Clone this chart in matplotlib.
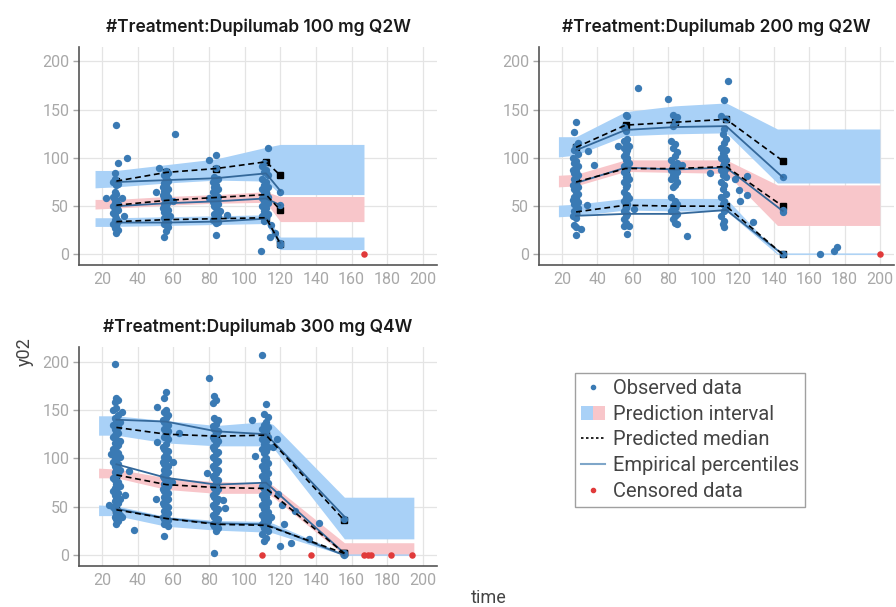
import matplotlib
matplotlib.use("Agg")
import matplotlib.pyplot as plt
from matplotlib.lines import Line2D
from matplotlib.patches import Patch
from matplotlib.legend_handler import HandlerTuple

plt.rcParams['font.family'] = ['Roboto', 'DejaVu Sans']

# ---------------- colours ----------------
OBS_COLOR = "#3a7ab4"
BAND_BLUE = "#a9d1f7"
BAND_PINK = "#f8c6ca"
EMP_COLOR = "#34689a"
CENS_COLOR = "#e03a3a"

# ============ Dupilumab 100 mg Q2W ============
t100_title = "#Treatment:Dupilumab 100 mg Q2W"
t100_bins = [28, 56, 84, 112, 120]
t100_band_x = [16, 28, 56, 84, 112, 120, 167]
t100_hi_lo = [69, 70, 74, 77, 76, 62, 62]
t100_hi_hi = [87, 87, 93, 99, 111, 114, 114]
t100_md_lo = [47, 48, 51, 53, 54, 34, 34]
t100_md_hi = [57, 57, 60, 62, 65, 60, 60]
t100_lo_lo = [29, 29, 30, 31, 32, 5, 5]
t100_lo_hi = [38, 38, 39, 40, 41, 18, 18]
t100_pred_hi = [76, 85, 89, 96, 82]
t100_pred_md = [51, 56, 59, 62, 46]
t100_pred_lo = [34, 36, 37, 38, 11]
t100_emp_hi = [75, 77, 79, 84, 66]
t100_emp_md = [50, 53, 55, 58, 51]
t100_emp_lo = [33, 33, 34, 37, 12]
t100_obs_t = [28, 27, 27, 28, 26, 27, 29, 28, 27, 28, 26, 22, 31, 28, 27, 29, 26, 28, 27, 29,
              28, 26, 27, 32, 28, 27, 29, 28, 26, 28, 27, 29, 28, 34, 29,
              61, 52, 56, 57, 55, 56, 57, 55, 56, 54, 57, 55, 56, 54, 57, 55, 56, 57, 55, 56,
              54, 57, 55, 56, 58, 55, 56, 57, 55, 56, 57, 56, 55, 50, 60,
              84, 80, 84, 83, 85, 82, 84, 83, 85, 82, 84, 85, 83, 84, 82, 85, 83, 84, 86, 83,
              85, 84, 82, 85, 84, 84, 90, 80,
              113, 111, 110, 112, 111, 113, 110, 112, 111, 113, 110, 112, 111, 113, 110, 112,
              111, 113, 110, 112, 111, 113, 110, 112, 111, 114, 109, 115, 117,
              120, 120, 120, 120]
t100_obs_y = [134, 84, 78, 76, 75, 74, 73, 72, 65, 63, 60, 58, 58, 56, 54, 52, 50, 49, 47, 46,
              45, 43, 41, 40, 38, 36, 35, 33, 31, 29, 27, 25, 22, 100, 95,
              125, 90, 86, 84, 82, 79, 76, 74, 72, 70, 68, 66, 64, 62, 60, 58, 56, 54, 52, 50,
              48, 46, 44, 42, 40, 38, 36, 34, 32, 30, 28, 24, 18, 65, 55,
              103, 98, 90, 80, 78, 75, 72, 70, 68, 65, 62, 60, 58, 56, 54, 52, 50, 48, 45, 42,
              40, 38, 36, 34, 33, 20, 41, 58,
              110, 95, 92, 88, 85, 82, 78, 75, 72, 70, 68, 65, 63, 60, 58, 56,
              55, 53, 50, 48, 45, 42, 40, 38, 35, 18, 3, 30, 22,
              65, 51, 12, 10]
t100_cens_t = [167]
t100_cens_y = [0]

# ============ Dupilumab 200 mg Q2W ============
t200_title = "#Treatment:Dupilumab 200 mg Q2W"
t200_bins = [28, 56, 84, 113, 145]
t200_band_x = [18, 28, 56, 84, 113, 142, 200]
t200_hi_lo = [101, 103, 123, 125, 126, 74, 74]
t200_hi_hi = [122, 122, 148, 154, 157, 130, 130]
t200_md_lo = [70, 71, 86, 85, 84, 30, 30]
t200_md_hi = [82, 83, 98, 98, 98, 72, 72]
t200_lo_lo = [39, 40, 46, 45, 45, 0, 0]
t200_lo_hi = [51, 52, 58, 58, 58, 1.5, 1.5]
t200_pred_hi = [111, 134, 137, 140, 97]
t200_pred_md = [75, 89, 89, 91, 50]
t200_pred_lo = [44, 51, 50, 50, 0]
t200_emp_hi = [108, 129, 132, 133, 80]
t200_emp_md = [74, 90, 88, 90, 45]
t200_emp_lo = [40, 42, 42, 46, 0]
t200_obs_t = [28, 27, 29, 28, 27, 29, 26, 28, 27, 29, 28, 26, 28, 27, 29, 28, 27, 28, 26, 29,
              27, 28, 29, 27, 28, 26, 29, 27, 28, 29, 27, 28, 26, 28, 27, 28, 31, 28, 35, 38, 34,
              56, 57, 55, 56, 57, 55, 56, 58, 55, 57, 56, 55, 57, 56, 58, 55, 57, 56, 55, 57,
              56, 58, 55, 57, 56, 55, 57, 56, 58, 55, 57, 56, 55, 57, 56, 55, 56, 55, 58, 57,
              63, 61, 52,
              80, 83, 85, 84, 83, 82, 84, 83, 85, 84, 82, 85, 83, 84, 82, 85, 83, 84, 82, 85,
              84, 83, 82, 84, 85, 83, 84, 82, 85, 84, 83, 84, 85, 91, 88,
              114, 112, 110, 113, 112, 111, 113, 112, 110, 113, 111, 112, 110, 113, 112, 111,
              113, 110, 112, 111, 113, 110, 112, 111, 113, 110, 112, 111, 113, 112, 110, 112,
              111, 112, 118, 120, 121, 125, 125, 128, 104,
              145, 145, 145, 145, 166, 174, 176]
t200_obs_y = [137, 127, 115, 112, 108, 104, 100, 97, 95, 92, 90, 88, 86, 84, 82, 80, 78, 75, 72, 70,
              68, 65, 63, 60, 58, 56, 54, 52, 50, 48, 45, 42, 40, 38, 30, 28, 26, 20, 107, 93, 51,
              145, 143, 132, 128, 120, 118, 115, 112, 110, 108, 105, 102, 100, 98, 95, 92, 90, 88, 85, 82,
              80, 78, 75, 72, 70, 65, 62, 60, 58, 55, 52, 48, 45, 42, 40, 37, 33, 29, 29, 21,
              173, 47, 112,
              161, 145, 142, 137, 133, 118, 114, 110, 106, 102, 98, 95, 92, 90, 88, 85, 82, 80, 78, 75,
              72, 70, 60, 55, 52, 50, 48, 45, 42, 40, 37, 33, 31, 19, 93,
              180, 160, 143, 140, 130, 125, 120, 115, 110, 108, 105, 102, 100, 98, 95, 92,
              90, 88, 85, 82, 80, 75, 72, 68, 63, 60, 55, 52, 48, 45, 40, 35,
              31, 28, 78, 67, 55, 81, 62, 34, 84,
              80, 46, 44, 0, 0, 3, 8]
t200_cens_t = [200]
t200_cens_y = [0]

# ============ Dupilumab 300 mg Q4W ============
t300_title = "#Treatment:Dupilumab 300 mg Q4W"
t300_bins = [28, 56, 84, 112, 156]
t300_band_x = [18, 28, 56, 84, 112, 116, 156, 195]
t300_hi_lo = [124, 124, 116, 113, 113, 111, 17, 17]
t300_hi_hi = [144, 144, 139, 134, 138, 135, 60, 60]
t300_md_lo = [80, 80, 68, 64, 64, 60, 0, 0]
t300_md_hi = [90, 89, 80, 76, 75, 72, 13, 13]
t300_lo_lo = [41, 41, 30, 26, 24, 23, 0, 0]
t300_lo_hi = [52, 51, 40, 36, 35, 33, 1.5, 1.5]
t300_pred_hi = [132, 125, 123, 124, 36]
t300_pred_md = [83, 73, 70, 69, 2]
t300_pred_lo = [47, 38, 32, 31, 2]
t300_emp_hi = [140, 138, 128, 125, 40]
t300_emp_md = [94, 80, 73, 75, 2]
t300_emp_lo = [48, 38, 33, 32, 0]
t300_obs_t = [27, 28, 29, 27, 28, 26, 31, 29, 27, 28, 30, 26, 29, 27, 28, 29, 27, 26, 28, 30,
              27, 29, 28, 26, 27, 29, 28, 30, 27, 28, 26, 29, 27, 28, 30, 27, 29, 28, 26, 27,
              29, 28, 30, 27, 28, 26, 29, 27, 28, 30, 27, 29, 28, 26, 27, 29, 28, 30, 27, 28,
              29, 28, 24, 35, 38, 33, 25, 31,
              56, 55, 51, 56, 55, 57, 56, 54, 55, 57, 56, 55, 57, 51, 56, 55, 57, 56, 54, 55,
              57, 56, 55, 57, 56, 54, 55, 57, 56, 55, 57, 56, 54, 55, 57, 56, 55, 57, 56, 54,
              55, 57, 56, 55, 57, 56, 54, 55, 57, 56, 55, 57, 56, 54, 55, 57, 56, 55, 57, 55,
              63, 50, 60, 59,
              80, 83, 84, 82, 83, 85, 84, 82, 83, 85, 84, 82, 83, 85, 84, 82, 83, 85, 84, 82,
              83, 85, 84, 82, 83, 85, 84, 82, 83, 85, 84, 82, 83, 85, 84, 82, 83, 85, 84, 82,
              83, 85, 84, 82, 83, 85, 84, 82, 83, 85, 84, 83, 88, 89, 79,
              110, 112, 111, 113, 104, 112, 111, 113, 110, 112, 111, 113, 110, 112, 111, 113,
              110, 112, 111, 106, 112, 111, 113, 110, 112, 111, 113, 110, 112, 111, 113, 110,
              112, 111, 113, 110, 112, 111, 113, 110, 112, 111, 113, 110, 112, 111, 113, 110,
              112, 111, 113, 110, 112, 111,
              118, 119, 121, 122, 120, 126, 128, 136, 142, 116, 115,
              156, 156, 156]
t300_obs_y = [197, 162, 160, 158, 152, 150, 148, 145, 142, 140, 138, 135, 132, 130, 128, 126, 124, 122, 120, 118,
              116, 114, 112, 110, 108, 106, 104, 102, 100, 98, 96, 94, 92, 90, 88, 86, 84, 82, 80, 78,
              76, 74, 72, 70, 68, 66, 64, 62, 60, 58, 56, 54, 52, 50, 48, 46, 44, 42, 40, 38,
              35, 32, 52, 87, 26, 62, 105, 40,
              169, 162, 153, 150, 148, 145, 142, 140, 138, 135, 132, 130, 128, 117, 125, 122, 120, 115, 112, 110,
              108, 105, 102, 100, 98, 96, 94, 92, 90, 88, 86, 84, 82, 80, 78, 76, 74, 72, 70, 68,
              66, 64, 62, 60, 58, 56, 54, 52, 50, 48, 46, 44, 42, 40, 38, 36, 34, 32, 30, 20,
              126, 58, 96, 76,
              183, 164, 160, 157, 142, 140, 136, 133, 130, 128, 125, 122, 120, 118, 115, 112, 110, 107, 105, 102,
              100, 97, 95, 92, 90, 88, 85, 82, 80, 78, 75, 72, 70, 68, 65, 62, 60, 58, 55, 52,
              50, 48, 45, 42, 40, 38, 35, 32, 30, 28, 25, 2, 57, 49, 85,
              207, 156, 146, 143, 140, 138, 135, 132, 130, 128, 125, 122, 120, 118, 115, 112,
              110, 108, 106, 103, 100, 98, 95, 92, 90, 88, 85, 82, 80, 78, 75, 72,
              70, 68, 65, 62, 60, 58, 55, 52, 50, 48, 45, 42, 40, 38, 35, 32,
              30, 28, 25, 22, 18, 15,
              120, 63, 52, 32, 10, 13, 46, 17, 33, 112, 40,
              38, 2, 0]
t300_cens_t = [110, 137, 167, 169, 171, 182, 194]
t300_cens_y = [0, 0, 0, 0, 0, 0, 0]

panels = [
    dict(title=t100_title, bins=t100_bins, bx=t100_band_x,
         bands=[(t100_hi_lo, t100_hi_hi, BAND_BLUE), (t100_md_lo, t100_md_hi, BAND_PINK),
                (t100_lo_lo, t100_lo_hi, BAND_BLUE)],
         pred=[t100_pred_hi, t100_pred_md, t100_pred_lo],
         emp=[t100_emp_hi, t100_emp_md, t100_emp_lo],
         obs=(t100_obs_t, t100_obs_y), cens=(t100_cens_t, t100_cens_y),
         rect=[79 / 896, 1 - 265 / 607, 358 / 896, 218 / 607]),
    dict(title=t200_title, bins=t200_bins, bx=t200_band_x,
         bands=[(t200_hi_lo, t200_hi_hi, BAND_BLUE), (t200_md_lo, t200_md_hi, BAND_PINK),
                (t200_lo_lo, t200_lo_hi, BAND_BLUE)],
         pred=[t200_pred_hi, t200_pred_md, t200_pred_lo],
         emp=[t200_emp_hi, t200_emp_md, t200_emp_lo],
         obs=(t200_obs_t, t200_obs_y), cens=(t200_cens_t, t200_cens_y),
         rect=[539 / 896, 1 - 265 / 607, 355 / 896, 218 / 607]),
    dict(title=t300_title, bins=t300_bins, bx=t300_band_x,
         bands=[(t300_hi_lo, t300_hi_hi, BAND_BLUE), (t300_md_lo, t300_md_hi, BAND_PINK),
                (t300_lo_lo, t300_lo_hi, BAND_BLUE)],
         pred=[t300_pred_hi, t300_pred_md, t300_pred_lo],
         emp=[t300_emp_hi, t300_emp_md, t300_emp_lo],
         obs=(t300_obs_t, t300_obs_y), cens=(t300_cens_t, t300_cens_y),
         rect=[79 / 896, 1 - 566 / 607, 358 / 896, 219 / 607]),
]

fig = plt.figure(figsize=(8.96, 6.07), dpi=100)

for p in panels:
    ax = fig.add_axes(p["rect"])
    for lo, hi, col in p["bands"]:
        ax.fill_between(p["bx"], lo, hi, color=col, lw=0, zorder=1)
    # predicted-median markers sit under the observations; only the free ones show
    for yv in p["pred"]:
        ax.plot(p["bins"], yv, ls="none", marker="s", ms=4, color="black", zorder=1.5)
    ax.scatter(p["obs"][0], p["obs"][1], s=28, color=OBS_COLOR, lw=0, zorder=2)
    for yv in p["emp"]:
        ax.plot(p["bins"], yv, color=EMP_COLOR, lw=1.3, zorder=3)
    for yv in p["pred"]:
        ax.plot(p["bins"], yv, color="black", lw=1.2, dashes=(3.5, 2.2), zorder=4)
    ax.scatter(p["cens"][0], p["cens"][1], s=22, color=CENS_COLOR, lw=0, zorder=5)

    ax.set_xlim(7, 208)
    ax.set_ylim(-11, 215)
    ax.set_xticks(range(20, 201, 20))
    ax.set_yticks(range(0, 201, 50))
    ax.grid(True, color="#e4e4e4", lw=0.9, zorder=0)
    ax.set_axisbelow(True)
    for s in ("top", "right"):
        ax.spines[s].set_visible(False)
    for s in ("left", "bottom"):
        ax.spines[s].set_color("#555555")
        ax.spines[s].set_linewidth(1.2)
    ax.tick_params(axis="x", length=0, pad=5, labelsize=11.5, labelcolor="#a8a8a8")
    ax.tick_params(axis="y", length=4, width=1, color="#a8a8a8", pad=3,
                   labelsize=11.5, labelcolor="#a8a8a8")
    ax.set_title(p["title"], family=["Inter", "Roboto", "DejaVu Sans"], fontsize=12.5,
                 fontweight="semibold", color="#1a1a1a", pad=11)

fig.text(25 / 896, 1 - 352 / 607, "y02", rotation=90, ha="center", va="center",
         fontsize=13, color="#444444")
fig.text(489 / 896, 1 - 598 / 607, "time", ha="center", va="center",
         fontsize=13, color="#444444")

handles = [
    Line2D([], [], ls="none", marker="o", ms=3, color=OBS_COLOR),
    (Patch(facecolor=BAND_BLUE, edgecolor="none"), Patch(facecolor=BAND_PINK, edgecolor="none")),
    Line2D([], [], color="black", lw=1.2, dashes=(1.5, 1.5)),
    Line2D([], [], color="#7fa6c9", lw=1.5),
    Line2D([], [], ls="none", marker="o", ms=3, color=CENS_COLOR),
]
labels = ["Observed data", "Prediction interval", "Predicted median",
          "Empirical percentiles", "Censored data"]
leg = fig.legend(handles, labels, loc="upper left",
                 bbox_to_anchor=(575 / 896, 1 - 373 / 607),
                 handler_map={tuple: HandlerTuple(ndivide=None, pad=0)},
                 fontsize=14.5, frameon=True, fancybox=False, edgecolor="#888888",
                 handlelength=1.2, handletextpad=0.4, labelspacing=0.33,
                 borderpad=0.3, borderaxespad=0, labelcolor="#444444")
leg.get_frame().set_linewidth(1.0)

fig.savefig("out.png", dpi=100)
